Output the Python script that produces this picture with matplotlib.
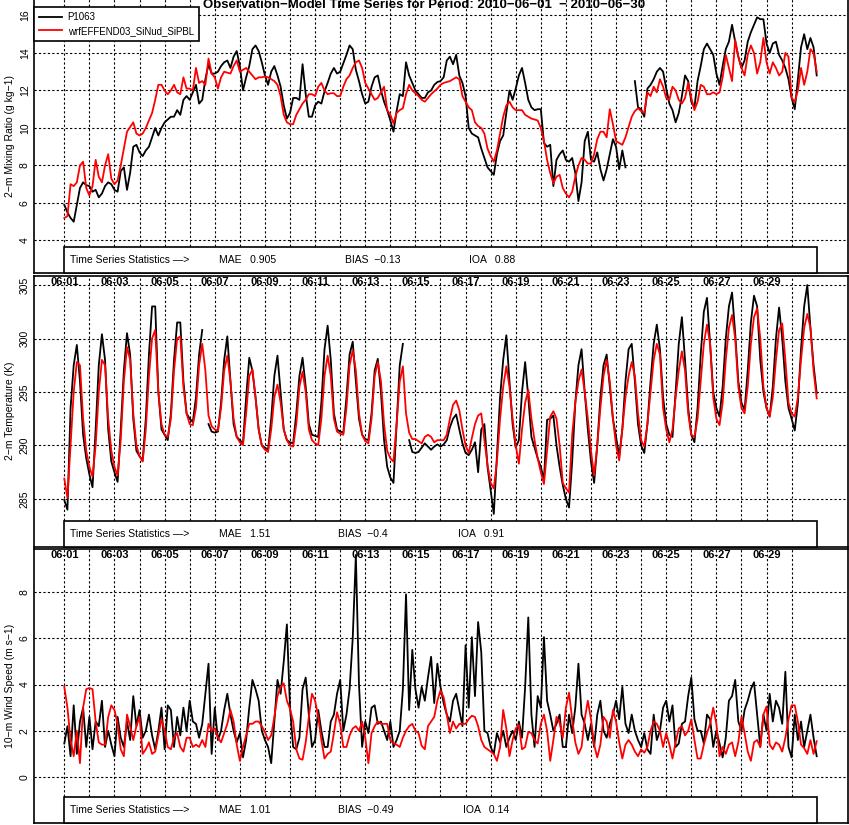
import numpy as np
import matplotlib
matplotlib.use('Agg')
import matplotlib.pyplot as plt
from matplotlib.patches import Rectangle
import matplotlib.transforms as mtransforms

plt.rcParams['font.family'] = ['Liberation Sans', 'DejaVu Sans']

title = "Observation\u2212Model Time Series for Period: 2010\u221206\u221201  \u2212 2010\u221206\u221230"
obs_name = "P1063"
mod_name = "wrfEFFEND03_SiNud_SiPBL"
date_labels = ['06-01', '06-03', '06-05', '06-07', '06-09', '06-11', '06-13', '06-15',
               '06-17', '06-19', '06-21', '06-23', '06-25', '06-27', '06-29']
ylabels = ['2\u2212m Mixing Ratio (g kg\u22121)', '2\u2212m Temperature (K)', '10\u2212m Wind Speed (m s\u22121)']
mae = ['0.905', '1.51', '1.01']
bias = ['\u22120.13', '\u22120.4', '\u22120.49']
ioa = ['0.88', '0.91', '0.14']
q_ticks = [4, 6, 8, 10, 12, 14, 16]
t_ticks = [285, 290, 295, 300, 305]
w_ticks = [0, 2, 4, 6, 8]

nan = np.nan
# 3-hourly values from 2010-06-01 00 to 2010-07-01 00
q_obs = [5.9, 5.5, 5.2, 5.0, 5.9, 6.8, 7.1, 6.95, 6.9, 6.6,
         6.7, 6.3, 6.5, 6.9, 7.1, 7.0, 6.7, 6.6, 7.7, 7.9,
         6.7, 7.6, 9.0, 9.1, 8.7, 8.5, 8.8, 9.0, 9.5, 10.0,
         9.6, 10.0, 10.3, 10.45, 10.6, 10.6, 10.95, 10.7, 11.5, 11.7,
         11.5, 11.9, 12.3, 11.3, 11.5, 12.6, 13.4, 12.9, 12.9, 13.0,
         13.3, 13.5, 13.6, 13.2, 13.8, 14.1, 13.3, 12.0, 12.7, 13.3,
         14.2, 14.4, 14.1, 13.5, 12.8, 12.3, 13.0, 13.3, 12.8, 12.2,
         11.2, 10.5, 10.8, 11.6, 11.6, 11.5, 13.4, 11.8, 10.6, 10.6,
         11.2, 11.4, 11.3, 11.95, 12.4, 12.9, 13.2, 12.9, 13.0, 13.45,
         13.9, 14.4, 14.2, 13.1, 12.5, 11.8, 11.3, 11.4, 12.2, 12.7,
         12.8, 12.0, 11.4, 10.95, 10.4, 9.8, 10.9, 11.8, 11.7, 13.5,
         12.8, 12.4, 12.0, 11.8, 11.6, 11.6, 11.9, 12.0, 12.3, 12.45,
         12.5, 12.7, 13.6, 13.8, 13.4, 13.9, 12.8, 12.4, 11.7, 10.0,
         9.7, 9.6, 9.5, 8.9, 8.4, 7.9, 7.7, 7.5, 8.6, 9.3,
         9.6, 10.8, 12.0, 11.5, 12.1, 12.8, 13.2, 12.4, 11.5, 11.1,
         10.95, 11.0, 11.0, 9.2, 9.0, 9.1, 6.9, 8.3, 8.6, 8.8,
         8.3, 8.2, 8.4, 7.6, 6.1, 7.1, 9.3, 9.8, 8.3, 8.2,
         8.7, 7.8, 7.2, 7.8, 8.6, 9.4, 9.0, 7.8, 8.8, 7.9,
         nan, nan, 12.5, 11.1, 11.0, 10.6, 12.1, 12.3, 12.6, 13.0,
         13.2, 13.0, 12.1, 11.3, 10.95, 10.3, 10.8, 11.7, 12.8, 12.5,
         11.4, 11.1, 12.5, 13.3, 14.2, 14.5, 14.2, 13.9, 12.9, 12.3,
         13.3, 14.2, 14.6, 15.5, 14.6, 13.8, 13.2, 13.6, 14.6, 15.1,
         15.5, 15.9, 15.8, 15.8, 14.5, 14.0, 14.5, 14.6, 13.9, 13.6,
         13.2, 12.6, 11.6, 11.0, 12.6, 14.3, 15.0, 14.2, 14.8, 14.3, 12.8]
q_mod = [5.2, 5.3, 7.0, 6.9, 7.1, 8.0, 8.2, 6.8, 6.4, 6.9,
         8.3, 7.4, 7.1, 8.0, 8.6, 7.3, 7.0, 7.2, 8.0, 8.9,
         9.8, 10.05, 10.3, 9.7, 9.6, 9.7, 10.0, 10.4, 10.8, 11.5,
         12.3, 12.3, 12.0, 11.8, 12.0, 12.3, 11.9, 11.8, 12.7, 12.1,
         12.1, 12.0, 13.2, 12.4, 12.5, 12.3, 13.7, 12.9, 12.7, 12.1,
         12.7, 13.0, 12.95, 12.9, 13.3, 13.6, 13.0, 13.1, 13.2, 13.0,
         12.8, 12.6, 12.7, 12.7, 12.75, 12.7, 12.6, 12.5, 12.3, 11.7,
         10.7, 10.3, 10.2, 10.2, 10.7, 11.0, 11.3, 11.5, 11.8, 11.8,
         11.7, 12.2, 12.4, 12.0, 11.8, 11.85, 11.85, 11.7, 11.7, 12.2,
         12.6, 12.8, 13.2, 13.5, 13.6, 13.2, 12.4, 12.1, 11.8, 11.5,
         11.6, 11.9, 12.2, 10.95, 10.7, 10.25, 10.8, 10.95, 11.05, 11.8,
         12.3, 12.0, 11.85, 11.7, 11.5, 11.4, 11.6, 11.8, 11.95, 12.1,
         12.3, 12.4, 12.45, 12.5, 12.6, 12.7, 12.6, 11.7, 11.4, 11.1,
         10.95, 10.3, 10.1, 10.0, 9.7, 8.9, 8.5, 8.2, 8.8, 9.7,
         10.6, 11.2, 11.4, 11.1, 10.95, 10.95, 10.95, 10.7, 10.6, 10.5,
         10.45, 10.4, 10.0, 9.3, 8.3, 7.6, 7.05, 7.4, 7.5, 6.8,
         6.5, 6.3, 6.6, 7.4, 8.0, 8.4, 8.3, 8.1, 8.1, 8.6,
         9.4, 9.8, 9.8, 9.5, 11.0, 10.2, 9.3, 9.2, 9.1, 9.5,
         10.05, 10.6, 10.9, 11.05, 10.9, 10.8, 11.9, 11.7, 12.2, 11.9,
         12.6, 12.2, 11.6, 11.5, 12.2, 12.0, 11.5, 11.3, 11.6, 12.4,
         11.6, 10.95, 11.4, 12.3, 12.2, 11.8, 11.8, 11.9, 11.8, 11.9,
         12.7, 13.9, 13.2, 12.5, 14.7, 13.8, 13.2, 12.8, 13.9, 14.4,
         14.0, 12.9, 13.5, 14.8, 13.5, 12.9, 13.5, 13.2, 12.8, 13.0,
         14.0, 13.8, 11.6, 11.4, 12.0, 13.2, 12.3, 13.0, 14.2, 14.0, 13.0]

t2_obs = [284.9, 284.0, 293.5, 297.5, 299.4, 296.0, 291.0, 288.8,
          287.3, 286.1, 291.5, 297.5, 300.4, 298.0, 291.5, 288.5,
          287.5, 286.6, 291.5, 297.0, 300.5, 298.5, 292.5, 289.5,
          289.0, 288.6, 292.5, 298.5, 303.0, 303.0, 295.0, 291.5,
          291.0, 290.5, 293.0, 298.0, 301.5, 301.5, 296.0, 293.0,
          292.5, 292.2, 294.5, 298.5, 300.8, nan, 292.0, 291.3,
          291.2, 291.3, 294.0, 298.0, 300.2, 296.0, 292.0, 290.8,
          290.5, 290.2, 294.5, 298.2, 297.0, 294.5, 291.5, 290.0,
          289.8, 289.6, 292.5, 296.5, 298.4, 295.0, 291.5, 290.5,
          290.3, 290.2, 293.0, 296.5, 298.2, 295.5, 292.0, 291.0,
          290.9, 290.8, 294.0, 299.0, 301.2, 298.0, 293.0, 291.5,
          291.3, 291.2, 294.5, 298.5, 299.7, 296.0, 292.5, 291.0,
          290.6, 290.5, 293.0, 297.0, 298.1, 295.0, 290.5, 288.0,
          287.0, 286.5, 292.0, 297.5, 299.5, nan, 290.5, 289.4,
          289.3, 289.4, 289.8, 290.2, 289.9, 289.6, 289.9, 290.1,
          289.9, 290.1, 290.5, 291.7, 292.5, 292.9, 291.5, 290.2,
          289.3, 289.1, 289.6, 290.3, 287.5, 291.5, 292.0, 288.0,
          285.8, 283.6, 289.0, 294.5, 298.0, 300.3, 296.0, 292.0,
          289.8, 290.5, 295.0, 297.8, 294.5, 290.8, 289.8, 288.8,
          288.0, 286.8, 292.4, 292.5, 292.8, 290.0, 288.0, 286.3,
          285.0, 284.2, 288.5, 294.0, 297.5, 299.0, 295.0, 291.5,
          288.5, 286.5, 290.0, 294.5, 297.5, 298.5, 295.5, 292.5,
          290.8, 289.0, 291.5, 296.0, 299.0, 299.5, 296.0, 292.0,
          290.0, 289.3, 292.0, 296.0, 299.5, 301.3, 299.0, 294.5,
          292.0, 291.0, 290.8, 295.0, 299.5, 302.0, 298.0, 293.5,
          291.0, 290.3, 293.5, 298.5, 302.5, 303.8, 299.5, 295.0,
          293.5, 292.7, 295.5, 300.0, 303.0, 304.3, 300.5, 296.0,
          294.0, 293.3, 297.0, 301.5, 304.0, 303.0, 298.0, 295.0,
          293.5, 292.7, 295.5, 300.0, 302.9, 300.0, 296.0, 293.5,
          292.5, 291.4, 294.0, 299.0, 303.0, 305.0, 301.0, 297.5,
          294.9]
t2_mod = [286.9, 285.1, 290.0, 295.0, 297.8, 297.5, 292.5, 289.5,
          288.0, 287.1, 290.0, 295.0, 298.0, 297.5, 292.5, 289.5,
          288.0, 287.2, 290.5, 296.0, 299.2, 298.0, 293.0, 290.0,
          289.0, 288.5, 291.5, 296.5, 300.0, 300.8, 295.0, 292.0,
          291.0, 290.8, 292.5, 297.0, 300.0, 300.2, 295.5, 293.0,
          292.0, 291.9, 293.5, 297.5, 299.5, 297.0, 292.8, 291.8,
          291.5, 291.4, 293.5, 297.0, 298.4, 296.0, 292.5, 290.8,
          290.3, 290.05, 293.0, 296.5, 297.1, 294.5, 291.5, 290.0,
          289.6, 289.4, 291.5, 294.5, 295.7, 294.0, 291.5, 290.5,
          290.0, 289.9, 292.0, 295.5, 296.9, 295.0, 291.5, 290.5,
          290.2, 290.05, 292.5, 296.5, 298.4, 296.5, 292.5, 291.3,
          291.1, 291.0, 293.5, 297.5, 298.9, 297.0, 293.0, 291.0,
          290.4, 290.2, 292.5, 296.5, 297.8, 296.0, 292.0, 289.5,
          288.8, 288.5, 292.0, 296.0, 297.4, 293.0, 291.2, 290.6,
          290.6, 290.4, 290.2, 290.8, 291.0, 290.8, 290.3, 290.5,
          290.5, 290.5, 291.0, 292.5, 293.8, 294.2, 293.3, 291.5,
          290.0, 289.3, 290.7, 292.0, 292.8, 293.0, 290.5, 288.2,
          286.5, 286.0, 288.5, 292.5, 295.5, 297.4, 295.5, 292.5,
          290.0, 288.3, 291.5, 294.0, 295.2, 292.5, 290.5, 288.8,
          287.5, 286.4, 289.5, 292.7, 293.2, 292.5, 290.0, 286.5,
          286.0, 285.6, 291.0, 294.0, 296.0, 297.1, 295.0, 292.5,
          289.5, 287.2, 290.0, 293.5, 296.5, 298.0, 296.0, 292.5,
          290.0, 288.6, 291.5, 294.5, 296.5, 297.8, 296.5, 293.0,
          290.5, 289.9, 292.0, 295.0, 298.0, 299.5, 298.5, 293.5,
          291.5, 290.3, 291.5, 294.5, 297.0, 298.8, 297.0, 293.0,
          291.0, 290.8, 292.5, 296.0, 299.5, 301.3, 299.5, 294.5,
          292.5, 291.9, 294.0, 298.0, 301.0, 302.2, 300.0, 295.5,
          293.5, 293.0, 295.5, 299.5, 302.0, 302.8, 300.0, 295.5,
          293.5, 292.7, 294.5, 298.0, 300.8, 301.4, 298.0, 294.0,
          293.0, 292.7, 294.5, 298.0, 301.0, 302.3, 301.0, 297.0,
          294.4]

ws_obs = [1.45, 2.2, 0.9, 3.1, 1.0, 2.4, 3.0, 1.3, 2.6, 1.2,
          2.4, 2.2, 3.3, 1.3, 2.0, 1.4, 0.9, 2.6, 1.7, 1.3,
          2.4, 1.6, 3.5, 2.2, 2.9, 1.7, 2.0, 2.7, 1.8, 1.2,
          2.0, 3.0, 1.2, 3.1, 2.9, 1.3, 2.6, 1.8, 3.0, 2.0,
          3.3, 2.4, 2.3, 1.7, 2.3, 3.6, 4.9, 1.0, 3.0, 1.6,
          2.0, 2.9, 3.6, 2.7, 2.0, 1.5, 1.9, 0.85, 1.6, 3.0,
          4.2, 3.8, 3.3, 2.0, 1.6, 1.3, 0.6, 2.4, 4.2, 3.6,
          5.0, 6.6, 3.0, 1.3, 1.2, 1.7, 3.8, 4.3, 2.7, 1.3,
          1.6, 2.9, 2.0, 1.3, 1.3, 2.4, 2.7, 3.6, 4.2, 2.0,
          2.7, 3.8, 6.0, 9.6, 4.0, 1.3, 2.4, 1.9, 3.0, 3.1,
          2.3, 2.4, 2.0, 1.6, 2.4, 1.3, 1.6, 2.0, 3.8, 7.9,
          2.9, 5.5, 3.8, 3.0, 3.9, 3.3, 4.3, 5.2, 3.2, 4.9,
          3.9, 3.2, 2.7, 2.4, 3.3, 3.6, 2.9, 2.2, 5.7, 3.0,
          6.05, 3.5, 6.7, 5.4, 2.0, 1.9, 1.3, 1.0, 1.9, 1.5,
          2.0, 1.3, 1.7, 2.0, 1.6, 2.4, 1.7, 3.9, 6.9, 2.7,
          1.3, 3.5, 3.0, 6.05, 3.3, 2.7, 2.0, 2.3, 2.7, 1.3,
          1.3, 2.7, 1.9, 3.0, 4.9, 2.7, 2.3, 1.6, 2.3, 1.3,
          2.7, 3.3, 2.0, 1.7, 2.3, 2.7, 3.3, 2.5, 3.9, 2.3,
          1.9, 2.7, 2.0, 1.6, 1.3, 1.9, 1.2, 1.0, 2.7, 1.6,
          2.0, 3.0, 3.3, 2.4, 3.1, 1.3, 1.45, 2.3, 2.4, 3.5,
          4.3, 2.5, 2.0, 2.0, 1.45, 2.7, 2.5, 1.3, 2.0, 1.45,
          0.85, 1.7, 3.3, 3.5, 4.2, 2.4, 2.0, 2.9, 3.3, 3.8,
          4.1, 2.7, 1.3, 2.7, 2.0, 3.6, 2.4, 3.3, 3.0, 2.3,
          4.55, 1.3, 0.85, 2.7, 1.6, 2.4, 1.3, 2.0, 2.7, 1.7, 0.9]
ws_mod = [3.9, 3.0, 1.6, 0.9, 2.0, 0.6, 3.0, 3.8, 3.85, 3.8,
          2.4, 1.5, 1.4, 1.4, 2.6, 3.1, 2.9, 2.3, 1.2, 0.9,
          2.7, 2.2, 1.6, 2.2, 2.6, 1.0, 1.2, 1.5, 1.0, 1.1,
          1.8, 2.5, 2.0, 1.3, 1.2, 1.7, 1.9, 1.3, 1.1, 1.7,
          1.7, 1.3, 1.4, 1.3, 1.6, 1.3, 2.3, 2.0, 2.1, 1.7,
          1.5, 1.9, 2.3, 2.9, 2.4, 1.4, 0.7, 1.3, 1.8, 2.3,
          2.3, 2.4, 2.4, 2.2, 1.95, 1.6, 1.8, 2.6, 3.5, 3.9,
          4.05, 3.3, 2.95, 2.4, 1.2, 0.8, 0.75, 1.5, 2.6, 3.6,
          3.3, 2.6, 1.6, 0.8, 1.0, 1.1, 1.9, 2.8, 2.3, 1.3,
          1.3, 1.8, 2.1, 2.2, 2.0, 2.4, 1.7, 0.6, 1.9, 2.2,
          2.4, 2.3, 2.3, 2.3, 1.6, 1.45, 1.4, 1.3, 1.7, 2.0,
          2.2, 2.3, 2.0, 1.9, 1.35, 1.2, 2.2, 2.4, 2.6, 3.3,
          3.75, 3.45, 2.7, 1.9, 2.4, 2.1, 2.3, 2.3, 2.3, 2.5,
          2.65, 2.6, 2.2, 1.6, 1.3, 1.2, 1.1, 1.0, 0.7, 1.3,
          2.9, 2.1, 0.9, 1.6, 2.1, 2.25, 1.2, 1.3, 1.95, 1.9,
          1.6, 1.45, 2.3, 2.7, 2.0, 0.7, 1.6, 2.6, 2.35, 1.7,
          3.0, 3.65, 2.5, 1.5, 1.0, 1.3, 2.5, 3.3, 2.5, 1.4,
          0.85, 1.4, 2.6, 2.4, 1.7, 2.9, 2.4, 1.5, 0.8, 1.4,
          1.6, 1.4, 1.1, 0.9, 1.2, 1.05, 1.3, 2.0, 2.4, 2.3,
          2.0, 1.3, 1.9, 1.4, 0.8, 1.5, 2.1, 2.2, 1.8, 2.0,
          2.5, 1.6, 0.8, 0.8, 1.4, 1.9, 2.3, 3.0, 2.3, 0.9,
          1.3, 1.0, 1.4, 1.5, 0.9, 1.5, 2.6, 1.9, 1.1, 0.7,
          1.5, 1.6, 1.3, 2.7, 3.05, 1.4, 1.2, 1.5, 1.4, 1.1,
          1.7, 2.5, 3.1, 3.1, 2.4, 1.4, 1.25, 1.0, 1.6, 1.0, 1.55]

# ---------------------------------------------------------------
W, H = 849, 825
fig = plt.figure(figsize=(W / 100, H / 100), dpi=100)

step_days = 3.0 / 24.0
t = np.arange(len(q_obs)) * step_days  # days since 2010-06-01 00
xlim = (-30.3 / 25.08, (848 - 64.3) / 25.08)

panels = [
    dict(top=-2, bottom=273.3, obs=q_obs, mod=q_mod, ticks=q_ticks,
         ylim=(2.25, 16.93), boxtop=3.65, dates=False,
         sx=(0.23, 6.17, 11.19, 16.13)),
    dict(top=275.7, bottom=546.7, obs=t2_obs, mod=t2_mod, ticks=t_ticks,
         ylim=(280.54, 305.87), boxtop=282.94, dates=True,
         sx=(0.23, 6.17, 10.91, 15.7)),
    dict(top=549, bottom=823.3, obs=ws_obs, mod=ws_mod, ticks=w_ticks,
         ylim=(-2.0, 9.86), boxtop=-0.865, dates=True,
         sx=(0.23, 6.17, 10.91, 15.9)),
]

axes = []
for i, p in enumerate(panels):
    ax = fig.add_axes([34 / W, 1 - p['bottom'] / H, (848 - 34) / W, (p['bottom'] - p['top']) / H])
    axes.append(ax)
    ax.set_xlim(*xlim)
    ax.set_ylim(*p['ylim'])
    ax.set_axisbelow(True)
    ax.set_xticks(np.arange(0, 30))
    ax.set_xticklabels([])
    ax.set_yticks(p['ticks'])
    ax.set_yticklabels([str(v) for v in p['ticks']], rotation=90, va='center', fontsize=7.5)
    ax.tick_params(axis='both', length=0, pad=3)
    ax.grid(True, color='black', linestyle=(0, (2.0, 2.0)), linewidth=0.8)
    for s in ax.spines.values():
        s.set_linewidth(1.2)
        s.set_color('black')

    lo, = ax.plot(t, p['obs'], color='black', lw=1.3, zorder=4, label=obs_name)
    lm, = ax.plot(t, p['mod'], color='red', lw=1.3, zorder=5, label=mod_name)

    y0 = p['ylim'][0]
    rect = Rectangle((0, y0), 30, p['boxtop'] - y0, facecolor='white', edgecolor='black',
                     lw=1.2, zorder=6, clip_on=False)
    ax.add_patch(rect)
    yc = (p['boxtop'] + y0) / 2
    sx = p['sx']
    kw = dict(fontsize=7.5, va='center', ha='left', zorder=7)
    ax.text(sx[0], yc, 'Time Series Statistics \u2014>', **kw)
    ax.text(sx[1], yc, 'MAE   ' + mae[i], **kw)
    ax.text(sx[2], yc, 'BIAS  ' + bias[i], **kw)
    ax.text(sx[3], yc, 'IOA   ' + ioa[i], **kw)

    fig.text(10 / W, 1 - (p['top'] + p['bottom']) / 2 / H, ylabels[i], rotation=90,
             ha='center', va='center', fontsize=7.5)

    if p['dates']:
        trans = mtransforms.blended_transform_factory(ax.transData, ax.transAxes)
        hpx = p['bottom'] - p['top']
        for j, lab in enumerate(date_labels):
            ax.text(2 * j, 1 - 6.0 / hpx, lab, transform=trans, ha='center', va='center',
                    fontsize=8, fontweight='bold', zorder=7)

    if i == 0:
        leg = ax.legend(handles=[lo, lm], loc='upper left', bbox_to_anchor=(0, 1 - 9.0 / 275.3),
                        borderaxespad=0, fancybox=False, framealpha=1, edgecolor='black',
                        fontsize=7, handlelength=2.3, handletextpad=0.6, borderpad=0.55,
                        labelspacing=0.35)
        leg.get_frame().set_linewidth(1.2)
        leg.set_zorder(8)

fig.text(0.5, 1 - 5.0 / H, title, ha='center', va='center', fontsize=9.5,
         fontweight='bold', zorder=10)

fig.savefig('out.png', dpi=100)
